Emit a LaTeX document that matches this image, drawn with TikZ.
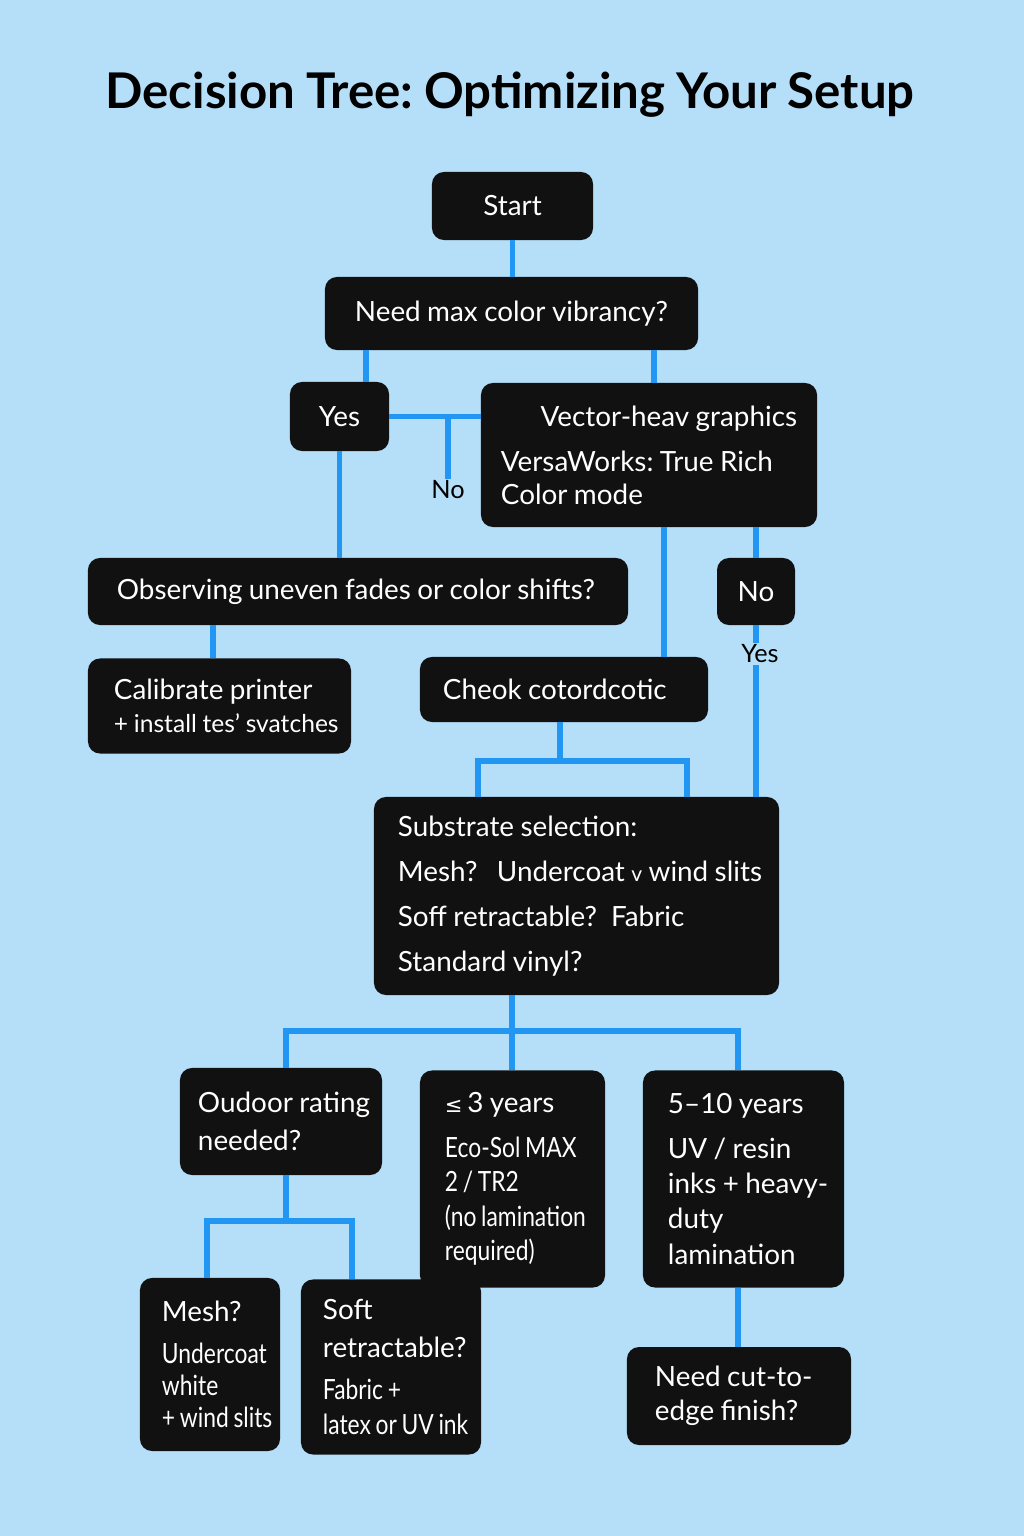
\documentclass[tikz,border=0pt]{standalone}
\usepackage{fontspec}
\setmainfont{Lato}[WordSpace=0.9]
\newfontfamily\condfont{Lato}[FakeStretch=0.82, WordSpace=0.8]
\newfontfamily\symfont{DejaVu Sans}
\definecolor{bgblue}{HTML}{B5DFF8}
\definecolor{boxblack}{HTML}{111111}
\definecolor{linkblue}{HTML}{2196F3}
\frenchspacing

\begin{document}
\begin{tikzpicture}[x=0.025cm, y=-0.025cm]
	\tikzstyle{box} = [fill=boxblack, text=white, rounded corners=0.3cm, inner sep=0pt, align=left, font=\fontsize{19.8pt}{23.5pt}\selectfont, execute at begin node={\spaceskip=0pt\xspaceskip=0pt}]
	\tikzstyle{link} = [draw=linkblue, line width=0.13cm]
	\tikzstyle{tag} = [text=black, inner sep=1pt, font=\fontsize{18pt}{20pt}\selectfont]
	\fill[bgblue] (0,0) rectangle (1024,1536);
	\node[font=\fontsize{35pt}{38pt}\selectfont\bfseries] (title) at (510,95) {Decision Tree: Optimizing Your Setup};
	% boxes
	\node[box, minimum width=4.025cm, minimum height=1.7cm] (start) at (512.5,206) {Start};
	\node[box, minimum width=9.325cm, minimum height=1.825cm] (vib) at (511.5,313.5) {Need max color vibrancy?};
	\node[box, minimum width=2.475cm, minimum height=1.725cm] (yes1) at (339.5,416.5) {Yes};
	\node[box, minimum width=8.4cm, minimum height=3.6cm, text width=7.4cm] (vec) at (649,455)
	  {\mbox{}\hfill \mbox{Vector-heav graphics}\\[8.5pt] \mbox{VersaWorks: True Rich}\\ Color mode};
	\node[tag] (no1) at (448,490) {No};
	\node[box, minimum width=13.5cm, minimum height=1.675cm, text width=12.05cm] (obs) at (358,591.5) {\mbox{Observing uneven fades or color shifts?}};
	\node[box, minimum width=1.95cm, minimum height=1.675cm] (no2) at (756,591.5) {No};
	\node[tag] (yes2) at (760,654) {Yes};
	\node[box, minimum width=6.575cm, minimum height=2.375cm, text width=5.275cm] (cal) at (219.5,706)
	  {\mbox{Calibrate printer}\\ \mbox{\fontsize{17.5pt}{20pt}\selectfont + install tes’ svatches}};
	\node[box, minimum width=7.2cm, minimum height=1.625cm, text width=6.05cm] (chk) at (564,689.5) {\mbox{Cheok cotordcotic}};
	\node[box, minimum width=10.125cm, minimum height=4.95cm, text width=8.925cm, font=\fontsize{19.8pt}{32pt}\selectfont] (sub) at (576.5,896)
	  {\mbox{Substrate selection:}\\ \mbox{Mesh?\hspace{0.7em}Undercoat {\fontsize{15pt}{15pt}\selectfont v} wind slits}\\ \mbox{Soff retractable?\hspace{0.5em}Fabric}\\ \mbox{Standard vinyl?}};
	\node[box, minimum width=5.05cm, minimum height=2.675cm, text width=4.15cm, font=\fontsize{19.8pt}{27pt}\selectfont] (out) at (281,1121.5)
	  {\mbox{Oudoor rating}\\ needed?};
	\node[box, minimum width=4.625cm, minimum height=5.425cm, text width=3.375cm, font=\fontsize{19.8pt}{24.5pt}\selectfont] (thr) at (512.5,1179)
	  {\mbox{{\symfont\fontsize{15pt}{15pt}\selectfont ≤}\,3 years}\\[7pt] \mbox{\condfont Eco-Sol MAX}\\ \mbox{\condfont 2 / TR2}\\ \mbox{\condfont (no lamination}\\ {\condfont required)}};
	\node[box, minimum width=5.025cm, minimum height=5.425cm, text width=3.775cm, font=\fontsize{19.8pt}{25pt}\selectfont] (ten) at (743.5,1179)
	  {\mbox{5–10 years}\\[6.8pt] \mbox{UV / resin}\\ \mbox{inks + heavy-}\\ duty\\ lamination};
	\node[box, minimum width=3.5cm, minimum height=4.325cm, text width=2.4cm, font=\fontsize{19.8pt}{23pt}\selectfont] (mesh) at (210,1364.5)
	  {Mesh?\\[6.5pt] \mbox{\condfont Undercoat}\\ {\condfont white}\\ \mbox{\condfont + wind slits}};
	\node[box, minimum width=4.5cm, minimum height=4.375cm, text width=3.4cm, font=\fontsize{19.8pt}{24.5pt}\selectfont] (soft) at (391,1367)
	  {Soft\\[2.5pt] retractable?\\[5.5pt] \mbox{\condfont Fabric +}\\ \mbox{\condfont latex or UV ink}};
	\node[box, minimum width=5.6cm, minimum height=2.45cm, text width=4.2cm, font=\fontsize{19.8pt}{24pt}\selectfont] (cut) at (739,1396)
	  {\mbox{Need cut-to-}\\ \mbox{edge finish?}};
	% branch points
	\coordinate (vibl) at (366,0);
	\coordinate (vibr) at (654,0);
	\coordinate (vecl) at (664,0);
	\coordinate (vecr) at (756,0);
	\coordinate (obsx) at (213,0);
	\coordinate (chkj) at (560,761);
	\coordinate (chkl) at (478,761);
	\coordinate (chkr) at (687,761);
	\coordinate (subj) at (512,1031);
	\coordinate (subl) at (286,1031);
	\coordinate (subr) at (738,1031);
	\coordinate (outj) at (286,1221);
	\coordinate (outl) at (207,1221);
	\coordinate (outr) at (352,1221);
	% connectors
	\draw[link] (start.south) -- (start.south |- vib.north);
	\draw[link] (vib.south -| vibl) -- (yes1.north -| vibl);
	\draw[link] (vib.south -| vibr) -- (vec.north -| vibr);
	\draw[link] (yes1.east) -- (vec.west |- yes1.east);
	\draw[link] (yes1.east -| no1.north) -- (no1.north);
	\draw[link] (yes1.south) -- (yes1.south |- obs.north);
	\draw[link] (vec.south -| vecl) -- (chk.north -| vecl);
	\draw[link] (vec.south -| vecr) -- (no2.north);
	\draw[link] (no2.south) -- (no2.south |- yes2.north);
	\draw[link] (yes2.south -| no2.south) -- (sub.north -| no2.south);
	\draw[link] (obs.south -| obsx) -- (cal.north -| obsx);
	\draw[link] (chk.south -| chkj) -- (chkj);
	\draw[link] (sub.north -| chkl) -- (chkl) -- (chkr) -- (sub.north -| chkr);
	\draw[link] (sub.south -| subj) -- (thr.north -| subj);
	\draw[link] (out.north -| subl) -- (subl) -- (subr) -- (ten.north -| subr);
	\draw[link] (out.south -| outj) -- (outj);
	\draw[link] (mesh.north -| outl) -- (outl) -- (outr) -- (soft.north -| outr);
	\draw[link] (ten.south -| subr) -- (cut.north -| subr);
\end{tikzpicture}
\end{document}
